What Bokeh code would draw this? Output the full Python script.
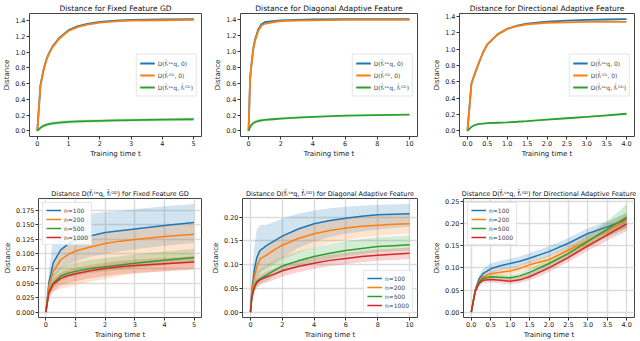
from bokeh.plotting import figure
from bokeh.layouts import column, row
from bokeh.models import Legend, LegendItem, FixedTicker, PrintfTickFormatter
from bokeh.embed import file_html
from bokeh.resources import INLINE

COLORS = ["#1f77b4", "#ff7f0e", "#2ca02c", "#d62728"]

# ---------------- top row data ----------------
titles_top = ["Distance for Fixed Feature GD",
              "Distance for Diagonal Adaptive Feature",
              "Distance for Directional Adaptive Feature"]
legend_top = ["D(f\u0302\u209c\u02e2\u1d49q, 0)", "D(f\u0302\u209c\u1d33\u1d30, 0)",
              "D(f\u0302\u209c\u02e2\u1d49q, f\u0302\u209c\u1d33\u1d30)"]

t1 = [0, 0.1, 0.2, 0.3, 0.4, 0.5, 0.7, 1.0, 1.3, 1.6, 2.0, 2.5, 3.0, 4.0, 5.0]
p1_seq = [0, 0.58, 0.78, 0.92, 1.01, 1.08, 1.18, 1.28, 1.33, 1.36, 1.385, 1.40, 1.41, 1.415, 1.42]
p1_gd = [0, 0.57, 0.77, 0.91, 1.00, 1.07, 1.17, 1.27, 1.32, 1.35, 1.375, 1.39, 1.40, 1.405, 1.41]
p1_diff = [0, 0.04, 0.065, 0.08, 0.09, 0.097, 0.106, 0.115, 0.12, 0.124, 0.128, 0.133, 0.137, 0.143, 0.148]
p1_diff_lo = [0, 0.02, 0.04, 0.055, 0.065, 0.072, 0.082, 0.092, 0.098, 0.103, 0.108, 0.113, 0.117, 0.123, 0.128]
p1_diff_hi = [0, 0.06, 0.09, 0.105, 0.115, 0.122, 0.13, 0.138, 0.142, 0.146, 0.149, 0.153, 0.157, 0.163, 0.168]

t2 = [0, 0.1, 0.2, 0.3, 0.4, 0.6, 0.8, 1.0, 1.5, 2, 3, 4, 6, 8, 10]
p2_seq = [0, 0.68, 0.88, 1.05, 1.15, 1.28, 1.345, 1.37, 1.385, 1.395, 1.40, 1.405, 1.41, 1.41, 1.41]
p2_gd = [0, 0.66, 0.86, 1.03, 1.13, 1.26, 1.325, 1.35, 1.37, 1.385, 1.39, 1.395, 1.40, 1.40, 1.40]
p2_diff = [0, 0.05, 0.08, 0.10, 0.11, 0.125, 0.133, 0.138, 0.147, 0.155, 0.168, 0.178, 0.192, 0.20, 0.205]
p2_diff_lo = [0, 0.03, 0.055, 0.075, 0.087, 0.103, 0.113, 0.12, 0.132, 0.141, 0.156, 0.167, 0.182, 0.191, 0.197]
p2_diff_hi = [0, 0.07, 0.105, 0.125, 0.133, 0.147, 0.153, 0.156, 0.162, 0.169, 0.18, 0.189, 0.202, 0.209, 0.213]

t3 = [0, 0.1, 0.2, 0.3, 0.4, 0.5, 0.75, 1.0, 1.25, 1.5, 2.0, 2.5, 3.0, 3.5, 4.0]
p3_seq = [0, 0.58, 0.72, 0.85, 0.97, 1.06, 1.18, 1.25, 1.29, 1.315, 1.34, 1.35, 1.36, 1.365, 1.37]
p3_gd = [0, 0.58, 0.72, 0.85, 0.97, 1.06, 1.18, 1.25, 1.285, 1.305, 1.325, 1.33, 1.335, 1.335, 1.335]
p3_diff = [0, 0.05, 0.075, 0.085, 0.09, 0.095, 0.10, 0.105, 0.112, 0.12, 0.138, 0.155, 0.172, 0.19, 0.21]
p3_diff_lo = [0, 0.045, 0.069, 0.079, 0.084, 0.089, 0.094, 0.099, 0.105, 0.113, 0.13, 0.146, 0.162, 0.179, 0.198]
p3_diff_hi = [0, 0.055, 0.081, 0.091, 0.096, 0.101, 0.106, 0.111, 0.119, 0.127, 0.146, 0.164, 0.182, 0.201, 0.222]

xticks_top = [[0, 1, 2, 3, 4, 5], [0, 2, 4, 6, 8, 10], [0, 0.5, 1.0, 1.5, 2.0, 2.5, 3.0, 3.5, 4.0]]
yticks_top = [0.0, 0.2, 0.4, 0.6, 0.8, 1.0, 1.2, 1.4]

# ---------------- bottom row data ----------------
titles_bot = ["Distance D(f\u0302\u209c\u02e2\u1d49q, f\u0302\u209c\u1d33\u1d30) for Fixed Feature GD",
              "Distance D(f\u0302\u209c\u02e2\u1d49q, f\u0302\u209c\u1d33\u1d30) for Diagonal Adaptive Feature",
              "Distance D(f\u0302\u209c\u02e2\u1d49q, f\u0302\u209c\u1d33\u1d30) for Directional Adaptive Feature"]
n_labels = ["n=100", "n=200", "n=500", "n=1000"]

t4 = [0, 0.1, 0.25, 0.5, 0.75, 1, 1.5, 2, 2.5, 3, 4, 5]
p4_n100 = [0, 0.05, 0.085, 0.107, 0.117, 0.123, 0.131, 0.137, 0.14, 0.143, 0.149, 0.154]
p4_n100_lo = [0, 0.035, 0.06, 0.075, 0.082, 0.087, 0.095, 0.10, 0.104, 0.108, 0.114, 0.119]
p4_n100_hi = [0, 0.07, 0.13, 0.152, 0.16, 0.165, 0.169, 0.172, 0.174, 0.177, 0.182, 0.186]
p4_n200 = [0, 0.045, 0.07, 0.09, 0.099, 0.105, 0.112, 0.118, 0.122, 0.125, 0.13, 0.134]
p4_n200_lo = [0, 0.028, 0.035, 0.04, 0.043, 0.046, 0.052, 0.057, 0.062, 0.066, 0.071, 0.075]
p4_n200_hi = [0, 0.055, 0.085, 0.105, 0.114, 0.12, 0.128, 0.135, 0.139, 0.143, 0.148, 0.152]
p4_n500 = [0, 0.035, 0.05, 0.062, 0.067, 0.07, 0.075, 0.078, 0.081, 0.084, 0.089, 0.094]
p4_n500_lo = [0, 0.028, 0.042, 0.054, 0.059, 0.062, 0.067, 0.07, 0.073, 0.076, 0.081, 0.086]
p4_n500_hi = [0, 0.045, 0.064, 0.077, 0.082, 0.085, 0.09, 0.093, 0.096, 0.099, 0.104, 0.109]
p4_n1000 = [0, 0.033, 0.048, 0.058, 0.063, 0.066, 0.071, 0.075, 0.078, 0.08, 0.083, 0.086]
p4_n1000_lo = [0, 0.022, 0.036, 0.046, 0.05, 0.053, 0.058, 0.062, 0.065, 0.067, 0.07, 0.073]
p4_n1000_hi = [0, 0.042, 0.058, 0.068, 0.073, 0.076, 0.081, 0.085, 0.088, 0.09, 0.093, 0.096]

t5 = [0, 0.1, 0.25, 0.4, 0.6, 0.8, 1, 1.5, 2, 3, 4, 5, 6, 7, 8, 9, 10]
p5_n100 = [0, 0.05, 0.09, 0.115, 0.13, 0.135, 0.14, 0.15, 0.16, 0.175, 0.186, 0.193, 0.198, 0.202, 0.205, 0.206, 0.207]
p5_n100_lo = [0, 0.035, 0.06, 0.075, 0.085, 0.09, 0.095, 0.105, 0.115, 0.135, 0.148, 0.158, 0.165, 0.17, 0.174, 0.177, 0.18]
p5_n100_hi = [0, 0.08, 0.14, 0.175, 0.183, 0.184, 0.184, 0.19, 0.197, 0.207, 0.214, 0.219, 0.222, 0.224, 0.226, 0.227, 0.228]
p5_n200 = [0, 0.045, 0.075, 0.095, 0.112, 0.116, 0.12, 0.131, 0.141, 0.155, 0.165, 0.172, 0.177, 0.181, 0.183, 0.185, 0.186]
p5_n200_lo = [0, 0.035, 0.055, 0.07, 0.082, 0.087, 0.09, 0.10, 0.11, 0.125, 0.137, 0.146, 0.152, 0.157, 0.16, 0.163, 0.165]
p5_n200_hi = [0, 0.06, 0.095, 0.115, 0.132, 0.136, 0.14, 0.151, 0.161, 0.175, 0.185, 0.192, 0.197, 0.201, 0.203, 0.205, 0.206]
p5_n500 = [0, 0.035, 0.055, 0.065, 0.07, 0.074, 0.078, 0.088, 0.097, 0.108, 0.117, 0.124, 0.13, 0.134, 0.138, 0.14, 0.142]
p5_n500_lo = [0, 0.027, 0.045, 0.054, 0.059, 0.063, 0.066, 0.076, 0.085, 0.096, 0.105, 0.112, 0.118, 0.122, 0.126, 0.128, 0.13]
p5_n500_hi = [0, 0.05, 0.072, 0.083, 0.09, 0.094, 0.098, 0.108, 0.117, 0.128, 0.137, 0.144, 0.15, 0.154, 0.158, 0.16, 0.162]
p5_n1000 = [0, 0.033, 0.052, 0.062, 0.068, 0.071, 0.074, 0.08, 0.087, 0.096, 0.103, 0.109, 0.113, 0.117, 0.12, 0.122, 0.124]
p5_n1000_lo = [0, 0.024, 0.042, 0.051, 0.057, 0.06, 0.062, 0.068, 0.075, 0.084, 0.091, 0.097, 0.101, 0.105, 0.108, 0.11, 0.112]
p5_n1000_hi = [0, 0.042, 0.062, 0.073, 0.079, 0.082, 0.086, 0.092, 0.099, 0.108, 0.115, 0.121, 0.125, 0.129, 0.132, 0.134, 0.136]

t6 = [0, 0.1, 0.2, 0.3, 0.5, 0.75, 1.0, 1.25, 1.5, 2.0, 2.5, 3.0, 3.5, 4.0]
p6_n100 = [0, 0.05, 0.075, 0.087, 0.098, 0.105, 0.11, 0.115, 0.122, 0.137, 0.156, 0.178, 0.193, 0.21]
p6_n100_lo = [0, 0.045, 0.066, 0.077, 0.087, 0.094, 0.099, 0.104, 0.11, 0.125, 0.143, 0.164, 0.178, 0.193]
p6_n100_hi = [0, 0.055, 0.084, 0.098, 0.11, 0.116, 0.121, 0.126, 0.134, 0.149, 0.168, 0.19, 0.206, 0.225]
p6_n200 = [0, 0.048, 0.07, 0.08, 0.087, 0.09, 0.093, 0.099, 0.107, 0.119, 0.14, 0.162, 0.185, 0.208]
p6_n200_lo = [0, 0.043, 0.063, 0.072, 0.079, 0.082, 0.085, 0.09, 0.097, 0.108, 0.128, 0.149, 0.17, 0.19]
p6_n200_hi = [0, 0.053, 0.077, 0.088, 0.095, 0.098, 0.101, 0.108, 0.117, 0.13, 0.152, 0.175, 0.2, 0.225]
p6_n500 = [0, 0.047, 0.068, 0.076, 0.08, 0.079, 0.078, 0.082, 0.09, 0.11, 0.133, 0.16, 0.188, 0.215]
p6_n500_lo = [0, 0.043, 0.062, 0.07, 0.074, 0.073, 0.072, 0.075, 0.082, 0.1, 0.121, 0.146, 0.17, 0.19]
p6_n500_hi = [0, 0.051, 0.074, 0.082, 0.086, 0.085, 0.084, 0.089, 0.098, 0.12, 0.145, 0.174, 0.206, 0.245]
p6_n1000 = [0, 0.046, 0.065, 0.072, 0.074, 0.072, 0.07, 0.073, 0.08, 0.10, 0.124, 0.15, 0.175, 0.20]
p6_n1000_lo = [0, 0.041, 0.059, 0.065, 0.067, 0.065, 0.063, 0.066, 0.072, 0.091, 0.114, 0.139, 0.162, 0.183]
p6_n1000_hi = [0, 0.051, 0.071, 0.079, 0.081, 0.079, 0.077, 0.08, 0.088, 0.109, 0.134, 0.161, 0.188, 0.215]

xticks_bot = [[0, 1, 2, 3, 4, 5], [0, 2, 4, 6, 8, 10], [0, 0.5, 1.0, 1.5, 2.0, 2.5, 3.0, 3.5, 4.0]]
yticks_bot = [[0, 0.025, 0.05, 0.075, 0.1, 0.125, 0.15, 0.175],
              [0, 0.05, 0.1, 0.15, 0.2],
              [0, 0.05, 0.1, 0.15, 0.2, 0.25]]

FONT = "DejaVu Sans"


def make_fig(w, h, lb, rb, tb, bb, title, title_fs, xt, yt, xf, yf, grid):
    p = figure(width=w, height=h, output_backend="svg", toolbar_location=None,
               min_border_left=lb, min_border_right=rb, min_border_top=tb,
               min_border_bottom=bb, title=title)
    p.title.text_font = FONT
    p.title.text_font_size = title_fs
    p.title.text_font_style = "normal"
    p.title.align = "center"
    p.title.standoff = 2
    p.title.text_color = "#111111"
    p.xaxis.ticker = FixedTicker(ticks=xt)
    p.yaxis.ticker = FixedTicker(ticks=yt)
    p.xaxis.formatter = PrintfTickFormatter(format=xf)
    p.yaxis.formatter = PrintfTickFormatter(format=yf)
    p.xaxis.axis_label = "Training time t"
    p.yaxis.axis_label = "Distance"
    p.axis.axis_label_text_font = FONT
    p.axis.axis_label_text_font_size = "7px"
    p.axis.axis_label_text_font_style = "normal"
    p.axis.axis_label_text_color = "#222222"
    p.axis.axis_label_standoff = 1
    p.axis.major_label_text_font = FONT
    p.axis.major_label_text_font_size = "6.5px"
    p.axis.major_label_text_color = "#222222"
    p.axis.major_label_standoff = 1
    p.axis.axis_line_color = None
    p.axis.major_tick_out = 3
    p.axis.major_tick_in = 0
    p.axis.major_tick_line_color = "#333333"
    p.axis.minor_tick_line_color = None
    p.outline_line_color = "#444444"
    p.outline_line_width = 1
    if grid:
        p.grid.grid_line_color = "#dcdcdc"
        p.grid.grid_line_width = 1.5
        p.xgrid.ticker = FixedTicker(ticks=xt)
        p.ygrid.ticker = FixedTicker(ticks=yt)
    else:
        p.grid.grid_line_color = None
    return p


def style_legend(leg, loc, row_h, fs="6px"):
    leg.location = loc
    leg.label_text_font = FONT
    leg.label_text_font_size = fs
    leg.label_height = row_h
    leg.glyph_height = row_h
    leg.glyph_width = 15
    leg.label_standoff = 3
    leg.spacing = 1
    leg.padding = 3
    leg.margin = 4
    leg.border_line_color = "#cccccc"
    leg.background_fill_alpha = 0.85


# widths / heights (whole layout 640 x 341)
W_TOP = [211, 219, 210]
RB_TOP = [10, 13, 6]
W_BOT = [209, 221, 210]
RB_BOT = [8, 13, 6]
H_TOP, H_BOT = 162, 179

top_data = [
    (t1, p1_seq, p1_gd, p1_diff, p1_diff_lo, p1_diff_hi, "%d"),
    (t2, p2_seq, p2_gd, p2_diff, p2_diff_lo, p2_diff_hi, "%d"),
    (t3, p3_seq, p3_gd, p3_diff, p3_diff_lo, p3_diff_hi, "%.1f"),
]
top_figs = []
for i, (t, s, g, d, dlo, dhi, xf) in enumerate(top_data):
    p = make_fig(W_TOP[i], H_TOP, 5, RB_TOP[i], 0, 26, titles_top[i], "7.5px",
                 xticks_top[i], yticks_top, xf, "%.1f", False)
    p.varea(x=t, y1=dlo, y2=dhi, fill_color=COLORS[2], fill_alpha=0.2)
    r1 = p.line(t, s, line_color=COLORS[0], line_width=1.8)
    r2 = p.line(t, g, line_color=COLORS[1], line_width=1.8)
    r3 = p.line(t, d, line_color=COLORS[2], line_width=1.8)
    leg = Legend(items=[LegendItem(label=legend_top[0], renderers=[r1]),
                        LegendItem(label=legend_top[1], renderers=[r2]),
                        LegendItem(label=legend_top[2], renderers=[r3])])
    style_legend(leg, "center_right", 11)
    p.add_layout(leg)
    top_figs.append(p)

bot_data = [
    (t4, [(p4_n100, p4_n100_lo, p4_n100_hi), (p4_n200, p4_n200_lo, p4_n200_hi),
          (p4_n500, p4_n500_lo, p4_n500_hi), (p4_n1000, p4_n1000_lo, p4_n1000_hi)], "%d", "%.3f", "top_left"),
    (t5, [(p5_n100, p5_n100_lo, p5_n100_hi), (p5_n200, p5_n200_lo, p5_n200_hi),
          (p5_n500, p5_n500_lo, p5_n500_hi), (p5_n1000, p5_n1000_lo, p5_n1000_hi)], "%d", "%.2f", "bottom_right"),
    (t6, [(p6_n100, p6_n100_lo, p6_n100_hi), (p6_n200, p6_n200_lo, p6_n200_hi),
          (p6_n500, p6_n500_lo, p6_n500_hi), (p6_n1000, p6_n1000_lo, p6_n1000_hi)], "%.1f", "%.2f", "top_left"),
]
bot_figs = []
for i, (t, series, xf, yf, loc) in enumerate(bot_data):
    p = make_fig(W_BOT[i], H_BOT, 5, RB_BOT[i], 36, 0, titles_bot[i], "6.5px",
                 xticks_bot[i], yticks_bot[i], xf, yf, True)
    for k, (m, lo, hi) in enumerate(series):
        p.varea(x=t, y1=lo, y2=hi, fill_color=COLORS[k], fill_alpha=0.2)
    items = []
    for k, (m, lo, hi) in enumerate(series):
        r = p.line(t, m, line_color=COLORS[k], line_width=1.5)
        items.append(LegendItem(label=n_labels[k], renderers=[r]))
    leg = Legend(items=items)
    style_legend(leg, loc, 8)
    p.add_layout(leg)
    bot_figs.append(p)

layout = column(row(*top_figs), row(*bot_figs))
open("out.html", "w").write(file_html(layout, INLINE))
